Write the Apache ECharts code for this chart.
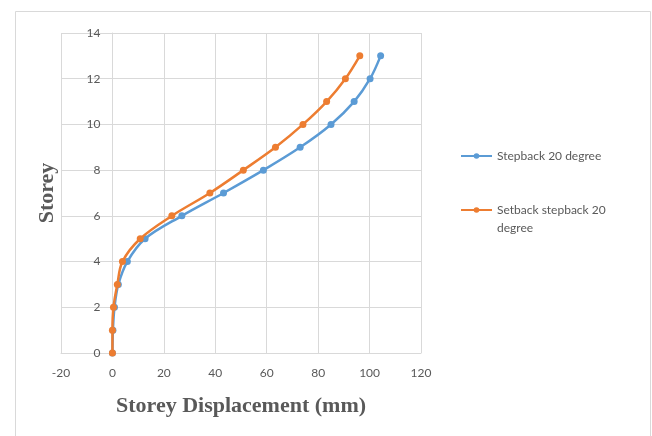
<!DOCTYPE html>
<html>
<head>
<meta charset="utf-8">
<script src="https://cdn.jsdelivr.net/npm/echarts@6/dist/echarts.min.js"></script>
<style>
  html, body { margin: 0; padding: 0; background: #ffffff; }
  #chart { width: 652px; height: 436px; }
</style>
</head>
<body>
<div id="chart"></div>
<script>
// Storey levels (0 = base)
const storeys = [0, 1, 2, 3, 4, 5, 6, 7, 8, 9, 10, 11, 12, 13];
// Storey displacement in mm for each storey
const stepbackDisp = [0, 0.2, 0.8, 2.3, 5.8, 12.7, 27, 43.2, 58.7, 73, 85, 94, 100.2, 104.3];
const setbackDisp  = [0, 0, 0.4, 1.9, 3.9, 10.8, 23.1, 37.9, 50.9, 63.4, 74.1, 83.3, 90.6, 96.2];
const seriesNames = ['Stepback 20 degree', 'Setback stepback 20 degree'];
const seriesColors = ['#5B9BD5', '#ED7D31'];
const xTicks = { min: -20, max: 120, step: 20 };
const yTicks = { min: 0, max: 14, step: 2 };

const pairs = (xs) => xs.map((x, i) => [x, storeys[i]]);

const chart = echarts.init(document.getElementById('chart'), null, { renderer: 'canvas' });

const tickFont = { color: '#595959', fontFamily: 'Lato', fontSize: 12 };
const titleFont = { fontFamily: 'Liberation Serif', fontWeight: 'bold', fontSize: 22, color: '#595959' };
const gridColor = '#D9D9D9';

chart.setOption({
  animation: false,
  backgroundColor: '#ffffff',
  graphic: [{
    type: 'rect',
    shape: { x: 15.5, y: 11.5, width: 635, height: 440 },
    style: { fill: 'none', stroke: gridColor, lineWidth: 1 },
    silent: true
  }],
  grid: { left: 61, right: 231, top: 33, bottom: 83, containLabel: false, outerBoundsMode: 'none' },
  xAxis: {
    type: 'value',
    min: xTicks.min, max: xTicks.max, interval: xTicks.step,
    name: 'Storey Displacement (mm)',
    nameLocation: 'middle',
    nameGap: 42,
    nameTextStyle: titleFont,
    axisLine: { show: true, onZero: false, lineStyle: { color: gridColor } },
    axisTick: { show: false },
    axisLabel: Object.assign({ margin: 14 }, tickFont),
    splitLine: { show: true, lineStyle: { color: gridColor } }
  },
  yAxis: {
    type: 'value',
    min: yTicks.min, max: yTicks.max, interval: yTicks.step,
    name: 'Storey',
    nameLocation: 'middle',
    nameGap: 54,
    nameRotate: 90,
    nameTextStyle: titleFont,
    axisLine: { show: true, lineStyle: { color: gridColor } },
    axisTick: { show: false },
    axisLabel: Object.assign({ margin: 12 }, tickFont),
    splitLine: { show: true, lineStyle: { color: gridColor } }
  },
  legend: [{
    orient: 'vertical',
    left: 460, top: 147,
    padding: 0,
    itemWidth: 31, itemHeight: 7, itemGap: 10,
    textStyle: { fontFamily: 'Lato', fontSize: 12, color: '#595959', lineHeight: 18 },
    data: [seriesNames[0]]
  }, {
    orient: 'vertical',
    left: 460, top: 183,
    padding: 0,
    itemWidth: 31, itemHeight: 7,
    // leading blank line keeps the marker level with the first text line
    formatter: (n) => n === seriesNames[1] ? ' \nSetback stepback 20\ndegree' : n,
    textStyle: { fontFamily: 'Lato', fontSize: 12, color: '#595959', lineHeight: 18 },
    data: [seriesNames[1]]
  }],
  series: [0, 1].map((k) => ({
    name: seriesNames[k],
    type: 'line',
    data: pairs(k === 0 ? stepbackDisp : setbackDisp),
    smooth: 0.35,
    symbol: 'circle',
    symbolSize: 7,
    color: seriesColors[k],
    lineStyle: { width: 2.5, color: seriesColors[k] },
    itemStyle: { color: seriesColors[k] },
    z: k === 1 ? 3 : 2
  }))
});

// Move the vertical axis so it crosses the horizontal axis at x = 0
const pxZero = chart.convertToPixel({ xAxisIndex: 0 }, 0);
const pxMin = chart.convertToPixel({ xAxisIndex: 0 }, xTicks.min);
chart.setOption({ yAxis: { offset: pxMin - pxZero } });
</script>
</body>
</html>
